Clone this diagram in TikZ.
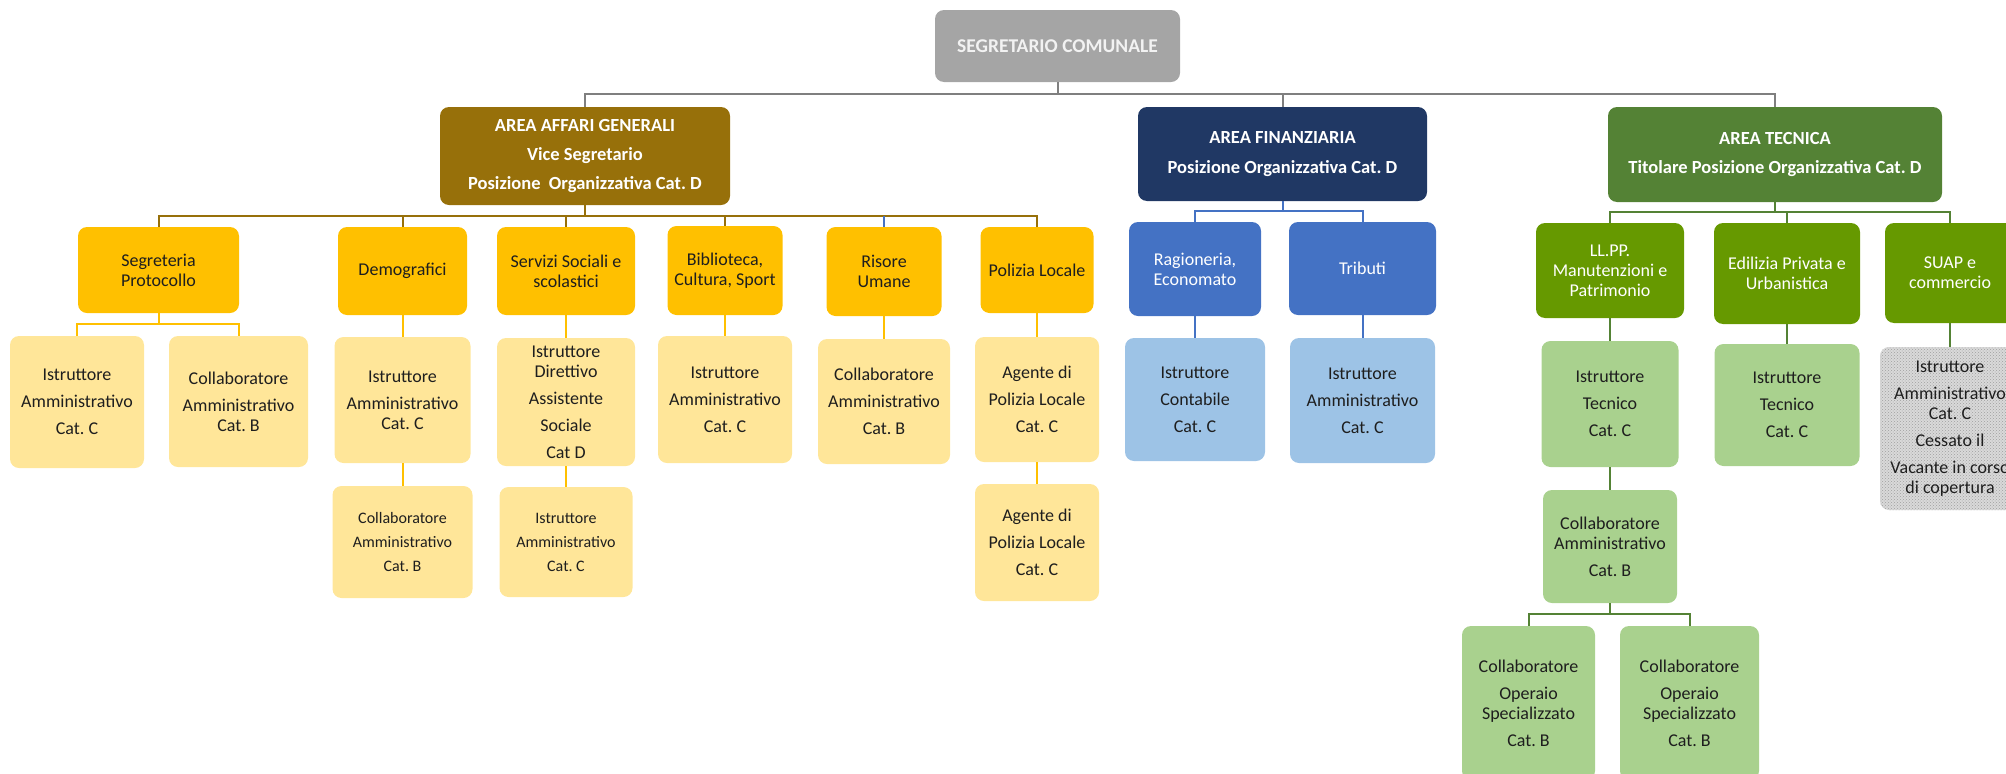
\documentclass[tikz,border=0pt]{standalone}
\usepackage{fontspec}
\setmainfont{Carlito}
\usetikzlibrary{patterns}

\definecolor{grigio}{HTML}{A5A5A5}
\definecolor{lineagrigia}{HTML}{7F7F7F}
\definecolor{oro}{HTML}{97700A}
\definecolor{navy}{HTML}{203864}
\definecolor{verdescuro}{HTML}{548235}
\definecolor{giallo}{HTML}{FFC000}
\definecolor{giallochiaro}{HTML}{FFE699}
\definecolor{blu}{HTML}{4472C4}
\definecolor{bluchiaro}{HTML}{9DC3E6}
\definecolor{verde}{HTML}{669900}
\definecolor{verdechiaro}{HTML}{A9D18E}
\definecolor{testo}{HTML}{1E1E1E}

\begin{document}
\frenchspacing
\begin{tikzpicture}[x=1pt, y=-1pt,
  box/.style={rounded corners=9pt, align=center, inner sep=0pt, text=testo,
    font=\fontsize{18}{20}\selectfont},
  wh/.style 2 args={minimum width=#1pt, minimum height=#2pt},
  area/.style={box, text=white, font=\bfseries\fontsize{18.5}{21}\selectfont},
  ufficioA/.style={box, fill=giallo},
  ufficioF/.style={box, fill=blu, text=white},
  ufficioT/.style={box, fill=verde, text=white},
  postoA/.style={box, fill=giallochiaro},
  postoF/.style={box, fill=bluchiaro},
  postoT/.style={box, fill=verdechiaro},
  piccolo/.style={font=\fontsize{16}{24}\selectfont},
  linea/.style={line width=2pt, #1}]
  \useasboundingbox (0,0) rectangle (2006,774);

  \coordinate (yTop) at (0,94);
  \coordinate (yA) at (0,216);
  \coordinate (yF) at (0,211);
  \coordinate (yT) at (0,212);
  \coordinate (yS) at (0,324);
  \coordinate (yO) at (0,614);

  \node[box, fill=grigio, text=white!95!black, font=\bfseries\fontsize{19.5}{22}\selectfont,
    wh={245}{72}] (segr) at (1057.5,46) {SEGRETARIO COMUNALE};

  % aree
  \node[area, fill=oro, wh={290}{98}] (aag) at (585,156)
    {AREA AFFARI GENERALI\\[8pt] Vice Segretario\\[8pt] Posizione\ \ Organizzativa Cat. D};
  \node[area, fill=navy, wh={289}{94}] (afin) at (1282.5,154)
    {AREA FINANZIARIA\\[9pt] Posizione Organizzativa Cat. D};
  \node[area, fill=verdescuro, wh={334}{95}] (atec) at (1775,154.5)
    {AREA TECNICA\\[8pt] Titolare Posizione Organizzativa Cat. D};

  % uffici
  \node[ufficioA, wh={161}{86}] (seg) at (158.5,270) {Segreteria\\ Protocollo};
  \node[ufficioA, wh={129}{88}] (demo) at (402.5,271) {Demografici};
  \node[ufficioA, wh={138}{88}] (serv) at (566,271) {Servizi Sociali e\\ scolastici};
  \node[ufficioA, wh={115}{89}] (bibl) at (725,270.5) {Biblioteca,\\ Cultura, Sport};
  \node[ufficioA, wh={115}{89}] (riso) at (884,271.5) {Risore\\ Umane};
  \node[ufficioA, wh={113}{86}] (poli) at (1037,270) {Polizia Locale};
  \node[ufficioF, wh={132}{94}] (rag) at (1195,269) {Ragioneria,\\ Economato};
  \node[ufficioF, wh={147}{93}] (trib) at (1362.5,268.5) {Tributi};
  \node[ufficioT, wh={148}{95}] (llpp) at (1610,270.5) {LL.PP.\\ Manutenzioni e\\ Patrimonio};
  \node[ufficioT, wh={146}{101}] (edil) at (1787,273.5) {Edilizia Privata e\\ Urbanistica};
  \node[ufficioT, wh={130}{100}] (suap) at (1950,273) {SUAP e\\ commercio};

  % posti
  \node[postoA, wh={134}{132}] (segIA) at (77,402) {Istruttore\\[7pt] Amministrativo\\[7pt] Cat. C};
  \node[postoA, wh={139}{131}] (segCA) at (238.5,401.5) {Collaboratore\\[7pt] Amministrativo\\ Cat. B};
  \node[postoA, wh={136}{126}] (demoIA) at (402.5,400) {Istruttore\\[7pt] Amministrativo\\ Cat. C};
  \node[postoA, piccolo, wh={140}{112}] (demoCA) at (402.5,542) {Collaboratore\\ Amministrativo\\ Cat. B};
  \node[postoA, wh={138}{128}] (servID) at (566,402)
    {Istruttore\\ Direttivo\\[7pt] Assistente\\[7pt] Sociale\\[7pt] Cat D};
  \node[postoA, piccolo, wh={133}{110}] (servIA) at (566,542) {Istruttore\\ Amministrativo\\ Cat. C};
  \node[postoA, wh={134}{127}] (biblIA) at (725,399.5) {Istruttore\\[7pt] Amministrativo\\[7pt] Cat. C};
  \node[postoA, wh={132}{125}] (risoCA) at (884,401.5) {Collaboratore\\[7pt] Amministrativo\\[7pt] Cat. B};
  \node[postoA, wh={124}{125}] (poliA1) at (1037,399.5) {Agente di\\[7pt] Polizia Locale\\[7pt] Cat. C};
  \node[postoA, wh={124}{117}] (poliA2) at (1037,542.5) {Agente di\\[7pt] Polizia Locale\\[7pt] Cat. C};
  \node[postoF, wh={140}{123}] (ragIC) at (1195,399.5) {Istruttore\\[7pt] Contabile\\[7pt] Cat. C};
  \node[postoF, wh={145}{125}] (tribIA) at (1362.5,400.5) {Istruttore\\[7pt] Amministrativo\\[7pt] Cat. C};
  \node[postoT, wh={137}{126}] (llppIT) at (1610,404) {Istruttore\\[7pt] Tecnico\\[7pt] Cat. C};
  \node[postoT, wh={134}{113}] (llppCA) at (1610,546.5) {Collaboratore\\ Amministrativo\\[7pt] Cat. B};
  \node[postoT, wh={133}{154}] (op1) at (1528.5,703)
    {Collaboratore\\[7pt] Operaio\\ Specializzato\\[7pt] Cat. B};
  \node[postoT, wh={139}{154}] (op2) at (1689.5,703)
    {Collaboratore\\[7pt] Operaio\\ Specializzato\\[7pt] Cat. B};
  \node[postoT, wh={145}{122}] (edilIT) at (1787,405) {Istruttore\\[7pt] Tecnico\\[7pt] Cat. C};
  \node[box, preaction={fill=gray!30}, pattern=crosshatch dots, pattern color=gray!75,
    wh={140}{163}] (suapIA) at (1950,428.5)
    {Istruttore\\[7pt] Amministrativo\\ Cat. C\\[7pt] Cessato il\\[7pt] Vacante in corso\\ di copertura};

  % collegamenti
  \foreach \a in {aag,afin,atec}
    \draw[linea=lineagrigia] (segr.south) |- (\a.north |- yTop) -- (\a.north);
  \foreach \u in {seg,demo,serv,bibl,riso,poli}
    \draw[linea=oro] (aag.south) |- (\u.north |- yA) -- (\u.north);
  \draw[linea=blu] (riso.north |- yA) -- (riso.north);
  \foreach \u in {rag,trib}
    \draw[linea=blu] (afin.south) |- (\u.north |- yF) -- (\u.north);
  \foreach \u in {llpp,edil,suap}
    \draw[linea=verdescuro] (atec.south) |- (\u.north |- yT) -- (\u.north);

  \foreach \p in {segIA,segCA}
    \draw[linea=giallo] (seg.south) |- (\p.north |- yS) -- (\p.north);
  \draw[linea=giallo] (demo) -- (demoIA) -- (demoCA);
  \draw[linea=giallo] (serv) -- (servID) -- (servIA);
  \draw[linea=giallo] (bibl) -- (biblIA);
  \draw[linea=giallo] (riso) -- (risoCA);
  \draw[linea=giallo] (poli) -- (poliA1) -- (poliA2);
  \draw[linea=blu] (rag) -- (ragIC);
  \draw[linea=blu] (trib) -- (tribIA);
  \draw[linea=verdescuro] (llpp) -- (llppIT) -- (llppCA);
  \foreach \p in {op1,op2}
    \draw[linea=verdescuro] (llppCA.south) |- (\p.north |- yO) -- (\p.north);
  \draw[linea=verdescuro] (edil) -- (edilIT);
  \draw[linea=verdescuro] (suap) -- (suapIA);
\end{tikzpicture}
\end{document}
